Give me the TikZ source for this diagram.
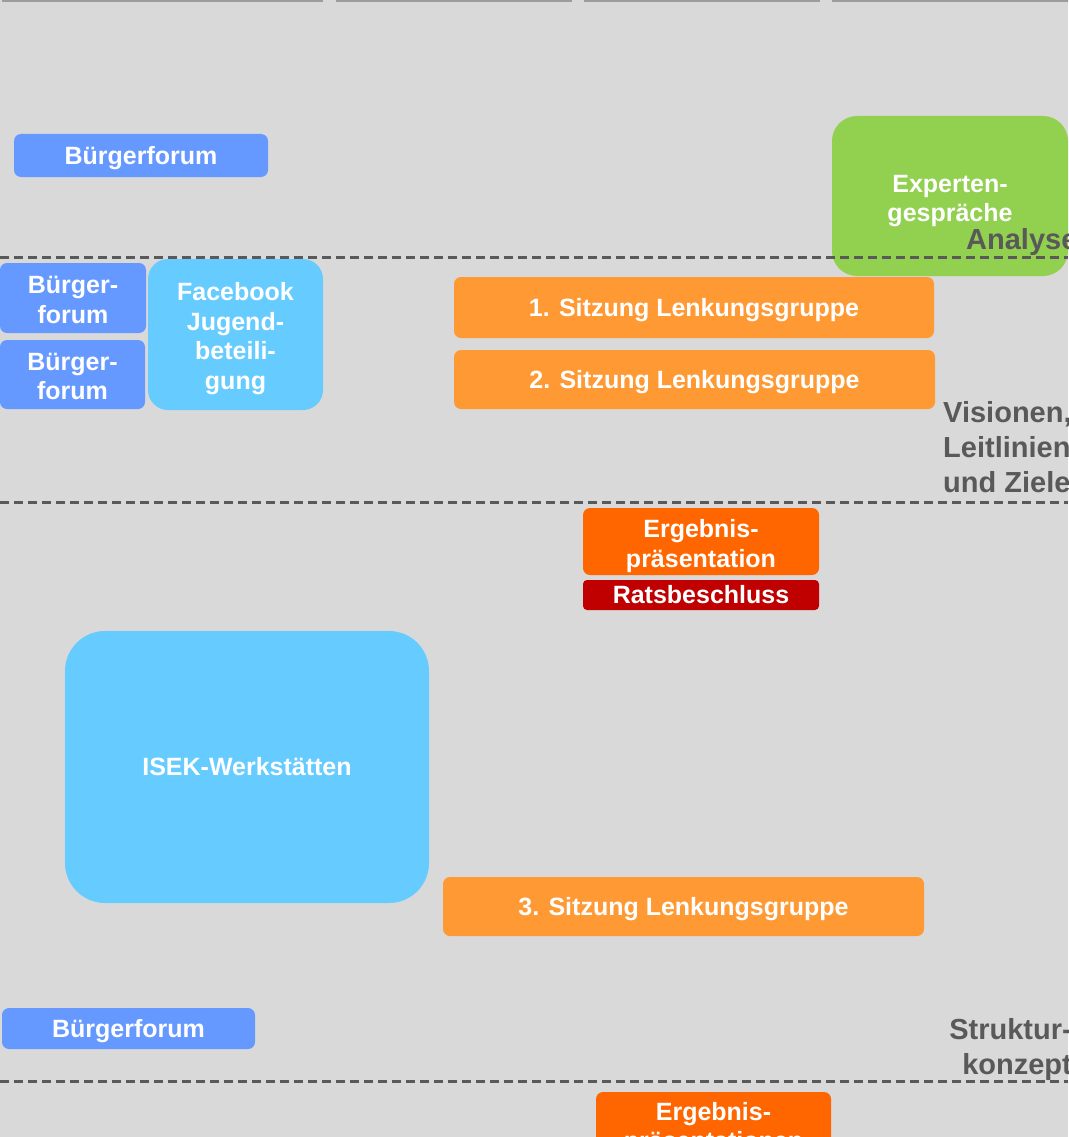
\documentclass[tikz,border=0pt]{standalone}
\usepackage{fontspec}
\setmainfont{Liberation Sans}
\usepackage{tikz}
\usetikzlibrary{positioning}

\definecolor{bggray}{HTML}{D9D9D9}
\definecolor{topgray}{HTML}{9C9C9C}
\definecolor{labelgray}{HTML}{595959}
\definecolor{forumblue}{HTML}{6699FF}
\definecolor{lightblue}{HTML}{66CCFF}
\definecolor{expgreen}{HTML}{92D050}
\definecolor{lgorange}{HTML}{FF9933}
\definecolor{resorange}{HTML}{FF6600}
\definecolor{ratred}{HTML}{C00000}

\begin{document}
\begin{tikzpicture}[x=1pt, y=-1pt,
    box/.style={rectangle, rounded corners=7pt, inner sep=0pt, align=center, text=white,
      font=\bfseries\fontsize{25}{29.5}\selectfont,
      execute at begin node={\rule[-6pt]{0pt}{29pt}},
      execute at end node={\rule[-6pt]{0pt}{6pt}}},
    multi/.style={text height=#1},
    phase/.style={inner sep=0pt, text=labelgray, font=\bfseries\fontsize{29}{35}\selectfont}]
    \useasboundingbox (0,0) rectangle (1068,1137);
    \clip (0,0) rectangle (1068,1137);
    \fill[bggray] (0,0) rectangle (1068,1137);

    % Column edges at the top
    \foreach \a/\b in {2/323, 336/572, 584/820, 832/1070} {
      \fill[topgray] (\a,-2) rectangle (\b,2);
    }

    % Analyse
    \node[box, multi=57pt, fill=expgreen, rounded corners=25pt, minimum width=236, minimum height=160] (exp) at (950,196) {Experten-\\gespräche};
    \node[box, fill=forumblue, minimum width=254, minimum height=43] (bf1) at (141,155.5) {Bürgerforum};
    \node[phase, anchor=base west] (analyse) at (966,249) {Analyse};

    % Visionen, Leitlinien und Ziele
    \node[box, multi=56pt, fill=forumblue, minimum width=146, minimum height=70] (bf2) at (73,298) {Bürger-\\forum};
    \node[box, multi=56pt, fill=forumblue, minimum width=145, minimum height=69] (bf3) at (72.5,374.5) {Bürger-\\forum};
    \node[box, multi=115pt, fill=lightblue, rounded corners=20pt, minimum width=175, minimum height=151] (fb) at (235.5,334.5) {Facebook\\Jugend-\\beteili-\\gung};
    \node[box, fill=lgorange, minimum width=480, minimum height=61] (lg1) at (694,307.5) {1. Sitzung Lenkungsgruppe};
    \node[box, fill=lgorange, minimum width=481, minimum height=59] (lg2) at (694.5,379.5) {2. Sitzung Lenkungsgruppe};
    \node[phase, anchor=west, align=left] (vision) at (943,447) {Visionen,\\Leitlinien\\und Ziele};

    % Strukturkonzept
    \node[box, multi=57pt, fill=resorange, minimum width=236, minimum height=67] (erg1) at (701,541.5) {Ergebnis-\\präsentation};
    \node[box, fill=ratred, rounded corners=4pt, minimum width=236, minimum height=30] (rat) at (701,595) {Ratsbeschluss};
    \node[box, fill=lightblue, rounded corners=40pt, minimum width=364, minimum height=272] (isek) at (247,767) {ISEK-Werkstätten};
    \node[box, fill=lgorange, minimum width=481, minimum height=59] (lg3) at (683.5,906.5) {3. Sitzung Lenkungsgruppe};
    \node[box, fill=forumblue, minimum width=253, minimum height=41] (bf4) at (128.5,1028.5) {Bürgerforum};
    \node[phase, anchor=east, align=right] (struktur) at (1072,1049) {Struktur-\\konzept};

    % next phase
    \node[box, multi=53pt, fill=resorange, minimum width=235, minimum height=68] (erg2) at (713.5,1126) {Ergebnis-\\präsentationen};

    % Phase borders
    \foreach \y in {257, 502, 1081} {
      \draw[labelgray, line width=3pt, dash pattern=on 9pt off 5pt] (0,\y) -- (1068,\y);
    }
\end{tikzpicture}
\end{document}
